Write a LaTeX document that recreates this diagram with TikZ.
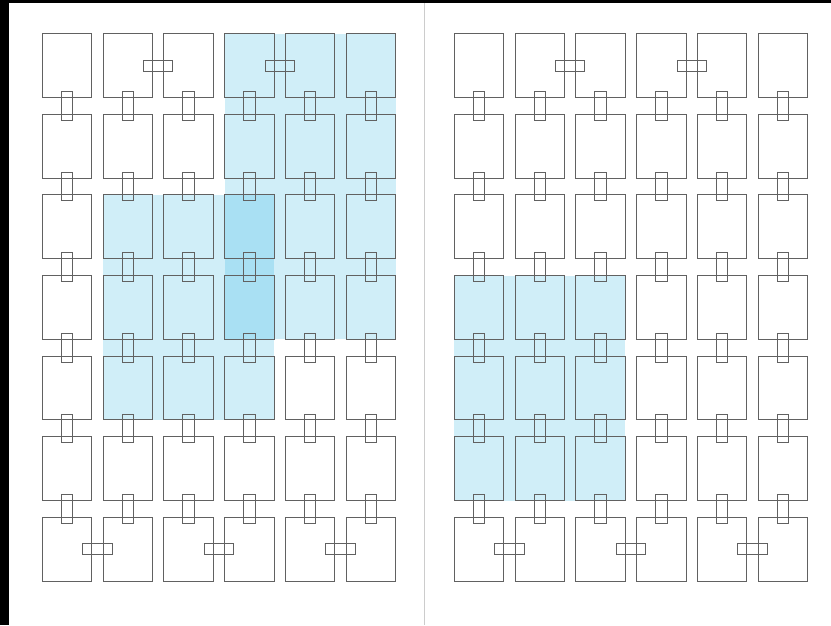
\documentclass[tikz,border=0pt]{standalone}
\begin{document}
\begin{tikzpicture}[x=1pt,y=-1pt,
  outline/.style={draw=black!62,line width=0.9pt},
  hilite/.style={fill={rgb,255:red,0;green,166;blue,222},fill opacity=0.185}]
\useasboundingbox (0,0) rectangle (831,625);
% page background and dark edges
\fill[white] (0,0) rectangle (831,625);
\fill[black] (0,0) rectangle (831,3.3);
\fill[black] (0,0) rectangle (9,625);
\draw[black!20,line width=1.2pt] (424.5,3.3) -- (424.5,625);
% highlights
\fill[hilite] (224.7,33.7) rectangle (395.6,339.3);
\fill[hilite] (103.1,194.9) rectangle (274.0,419.9);
\fill[hilite] (454.3,275.5) rectangle (625.2,500.5);
% pages
\foreach \P in {0,412}{
  \foreach \c in {0,...,5}{
    \foreach \r in {0,...,6}{
      \pgfmathsetmacro{\xa}{42.3+60.8*\c+\P}
      \pgfmathsetmacro{\ya}{33.7+80.6*\r}
      \draw[outline] (\xa,\ya) rectangle ++(49.3,63.8);
    }
    \foreach \r in {0,...,5}{
      \pgfmathsetmacro{\cx}{42.3+60.8*\c+\P+24.65}
      \pgfmathsetmacro{\cy}{33.7+80.6*\r+72.2}
      \draw[outline] (\cx-5.65,\cy-14.35) rectangle (\cx+5.65,\cy+14.35);
    }
  }
  \foreach \c/\r in {1/0,3/0,0/6,2/6,4/6}{
    \pgfmathsetmacro{\cx}{42.3+60.8*\c+\P+55.05}
    \pgfmathsetmacro{\cy}{33.7+80.6*\r+31.9}
    \draw[outline] (\cx-14.65,\cy-5.65) rectangle (\cx+14.65,\cy+5.65);
  }
}
\end{tikzpicture}
\end{document}
